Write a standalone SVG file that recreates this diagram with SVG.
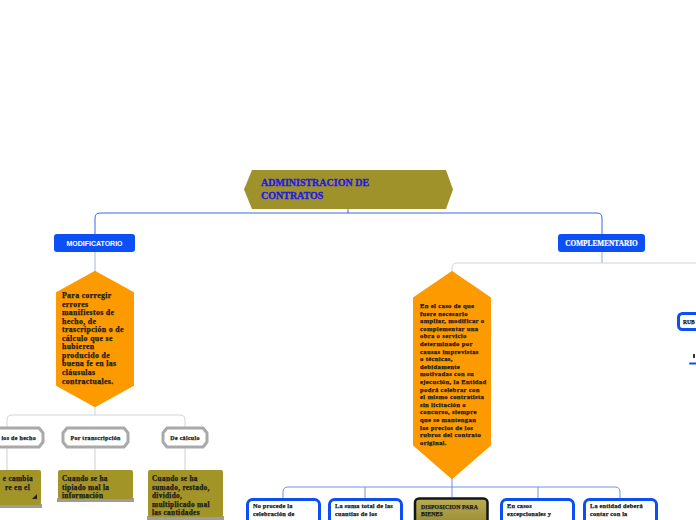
<svg xmlns="http://www.w3.org/2000/svg" width="696" height="520" viewBox="0 0 696 520">
<defs>
<linearGradient id="dispG" x1="0" y1="0" x2="0" y2="1">
<stop offset="0" stop-color="#b9ad55"/>
<stop offset="1" stop-color="#857822"/>
</linearGradient>
<style>
.t{font-family:"Liberation Serif","DejaVu Serif",serif;font-weight:700;fill:#1a1a1a;stroke:#1a1a1a;stroke-width:0.25}
.ttl{font-family:"Liberation Serif","DejaVu Serif",serif;font-weight:700;fill:#1c1ce0;stroke:#1c1ce0;stroke-width:0.35;font-size:10px}
.wb{font-family:"Liberation Sans",Arial,sans-serif;font-weight:700;fill:#fff;font-size:7px}
.ws{font-family:"Liberation Serif",serif;font-weight:700;fill:#fff;stroke:#fff;stroke-width:0.2;font-size:7.3px}
.blue{fill:#0c4ff4}
.orange{fill:#fd9a00}
.olive{fill:#a39428}
.shadow{fill:#9c9c9c}
.gray{fill:#fff;stroke:#a9a9a9;stroke-width:3;stroke-linejoin:round}
.bbox{fill:#fff;stroke:#0c4ff4;stroke-width:3}
.h1{font-size:7.8px;letter-spacing:0.35px}
.h2{font-size:6.3px;letter-spacing:0.2px}
.h3{font-size:6.6px;letter-spacing:0.35px}
.s6{font-size:6px;letter-spacing:0.3px}
.s7{font-size:7.3px;letter-spacing:0.3px}
.c{fill:none;stroke-width:1}
</style>
</defs>
<g id="connectors">
<path class="c" stroke="#3d67e4" d="M348,209 V213 M100,213 H597 Q602,213 602,218 V234 M100,213 Q95,213 95,218 V234"/>
<path class="c" stroke="#a9b6d6" d="M95,252 V272"/>
<path class="c" stroke="#d2d2d2" stroke-width="1.5" d="M95,406 V415 M12,415 H180 Q185,415 185,420 V427 M12,415 Q7,415 7,420 V427"/>
<path class="c" stroke="#cfcfcf" stroke-width="1.5" d="M7,447 V470 M95,447 V470 M185,447 V470"/>
<path class="c" stroke="#8ea4e2" d="M602,252 V263"/>
<path class="c" stroke="#d0d4de" d="M457,263 H696 M457,263 Q452,263 452,268 V272"/>
<path class="c" stroke="#6f90ea" d="M452,478 V487 M288,487 H615 Q620,487 620,492 V498 M288,487 Q283,487 283,492 V498 M365,487 V498 M452,487 V497 M538,487 V498"/>
</g>
<g id="root">
<polygon points="252,170 446,170 453,189.5 446,209 252,209 244,189.5" fill="#a0922a"/>
<text class="ttl" x="261" y="186">ADMINISTRACION DE</text>
<text class="ttl" x="261" y="198.5">CONTRATOS</text>
</g>
<g id="modificatorio">
<rect class="blue" x="54" y="234" width="81" height="18" rx="3"/>
<text class="wb" x="94.5" y="245.5" text-anchor="middle">MODIFICATORIO</text>
</g>
<g id="complementario">
<rect class="blue" x="558" y="234" width="87" height="18" rx="3"/>
<text class="ws" x="601.5" y="245.5" text-anchor="middle">COMPLEMENTARIO</text>
</g>
<g id="hex-modif">
<polygon class="orange" points="95,272 133,293 133,385 95,406 57,385 57,293" stroke="#fd9a00" stroke-width="2" stroke-linejoin="round"/>
<text class="t h1" x="62" y="298">
<tspan x="62" dy="0">Para corregir</tspan>
<tspan x="62" dy="8.55">errores</tspan>
<tspan x="62" dy="8.55">manifiestos  de</tspan>
<tspan x="62" dy="8.55">hecho, de</tspan>
<tspan x="62" dy="8.55">trascripción o de</tspan>
<tspan x="62" dy="8.55">cálculo que se</tspan>
<tspan x="62" dy="8.55">hubieren</tspan>
<tspan x="62" dy="8.55">producido de</tspan>
<tspan x="62" dy="8.55">buena fe en las</tspan>
<tspan x="62" dy="8.55">cláusulas</tspan>
<tspan x="62" dy="8.55">contractuales.</tspan>
</text>
</g>
<g id="hex-compl">
<polygon class="orange" points="452,272 490,298 490,445 452,478 414,445 414,298" stroke="#fd9a00" stroke-width="2" stroke-linejoin="round"/>
<text class="t h3" x="420" y="308">
<tspan x="420" dy="0">En el caso de que</tspan>
<tspan x="420" dy="7.6">fuere necesario</tspan>
<tspan x="420" dy="7.6">ampliar, modificar o</tspan>
<tspan x="420" dy="7.6">complementar una</tspan>
<tspan x="420" dy="7.6">obra o servicio</tspan>
<tspan x="420" dy="7.6">determinado por</tspan>
<tspan x="420" dy="7.6">causas imprevistas</tspan>
<tspan x="420" dy="7.6">o técnicas,</tspan>
<tspan x="420" dy="7.6">debidamente</tspan>
<tspan x="420" dy="7.6">motivadas con su</tspan>
<tspan x="420" dy="7.6">ejecución, la Entidad</tspan>
<tspan x="420" dy="7.6">podrá celebrar con</tspan>
<tspan x="420" dy="7.6">el mismo contratista</tspan>
<tspan x="420" dy="7.6">sin licitación o</tspan>
<tspan x="420" dy="7.6">concurso, siempre</tspan>
<tspan x="420" dy="7.6">que se mantengan</tspan>
<tspan x="420" dy="7.6">los precios de los</tspan>
<tspan x="420" dy="7.6">rubros del contrato</tspan>
<tspan x="420" dy="7.6">original.</tspan>
</text>
</g>
<g id="gray-hecho">
<polygon class="gray" points="-30,428 39,428 43,433 43,442 39,447 -30,447"/>
<text class="t s6" x="36" y="439.5" text-anchor="end">ios de hecho</text>
</g>
<g id="gray-transcripcion">
<polygon class="gray" points="67,428 124,428 128,433 128,442 124,447 67,447 63,442 63,433"/>
<text class="t s6" x="95.5" y="439.5" text-anchor="middle">Por transcripción</text>
</g>
<g id="gray-calculo">
<polygon class="gray" points="167,428 203,428 207,433 207,442 203,447 167,447 163,442 163,433"/>
<text class="t s6" x="185" y="439.5" text-anchor="middle">De cálculo</text>
</g>
<g id="olive-hecho">
<rect class="shadow" x="-10" y="504" width="52" height="4"/>
<rect class="olive" x="-10" y="470" width="51" height="35" rx="2"/>
<text class="t s7" x="33" y="480.5" text-anchor="end">e cambia</text>
<text class="t s7" x="30" y="489.5" text-anchor="end">re  en el</text>
<polygon points="37,494 37,499 32,499" fill="#222"/>
</g>
<g id="olive-transcripcion">
<rect class="shadow" x="57" y="498" width="77" height="4"/>
<rect class="olive" x="58" y="470" width="75" height="29" rx="2"/>
<text class="t s7" x="62" y="480.5">Cuando se ha</text>
<text class="t s7" x="62" y="489.5">tipiado mal la</text>
<text class="t s7" x="62" y="498">información</text>
</g>
<g id="olive-calculo">
<rect class="shadow" x="147" y="516" width="77" height="4"/>
<rect class="olive" x="148" y="470" width="75" height="47" rx="2"/>
<text class="t s7" x="152" y="480.5">Cuando se ha</text>
<text class="t s7" x="152" y="489.5">sumado, restado,</text>
<text class="t s7" x="152" y="498">dividido,</text>
<text class="t s7" x="152" y="506.5">multiplicado mal</text>
<text class="t s7" x="152" y="515">las  cantidades</text>
</g>
<g id="box-noprocede">
<rect class="bbox" x="247.5" y="499.5" width="72" height="40" rx="5"/>
<text class="t h2" x="253" y="508">No procede la</text>
<text class="t h2" x="253" y="516">celebración de</text>
</g>
<g id="box-suma">
<rect class="bbox" x="329.5" y="499.5" width="72" height="40" rx="5"/>
<text class="t h2" x="335" y="508">La suma total de las</text>
<text class="t h2" x="335" y="516">cuantías de los</text>
</g>
<g id="box-disposicion">
<rect x="415" y="498.5" width="72.5" height="40" rx="4" fill="url(#dispG)" stroke="#151515" stroke-width="2.5"/>
<text class="t" font-size="5.8" letter-spacing="0.1" x="421" y="508.5">DISPOSICION PARA</text>
<text class="t" font-size="5.8" letter-spacing="0.1" x="421" y="516">BIENES</text>
</g>
<g id="box-excepcionales">
<rect class="bbox" x="501.5" y="499.5" width="72" height="40" rx="5"/>
<text class="t h2" x="507" y="508">En casos</text>
<text class="t h2" x="507" y="516">excepcionales y</text>
</g>
<g id="box-entidad">
<rect class="bbox" x="584.5" y="499.5" width="72" height="40" rx="5"/>
<text class="t h2" x="590" y="508">La entidad deberá</text>
<text class="t h2" x="590" y="516">contar con la</text>
</g>
<g id="right-partial">
<rect class="bbox" x="678.5" y="313.5" width="40" height="16" rx="4"/>
<text class="t" font-size="5.5" x="683" y="324">RUB</text>
<rect class="blue" x="689" y="362.5" width="10" height="2" rx="1"/>
<rect x="693" y="354" width="2" height="4" fill="#333"/>
</g>
</svg>
